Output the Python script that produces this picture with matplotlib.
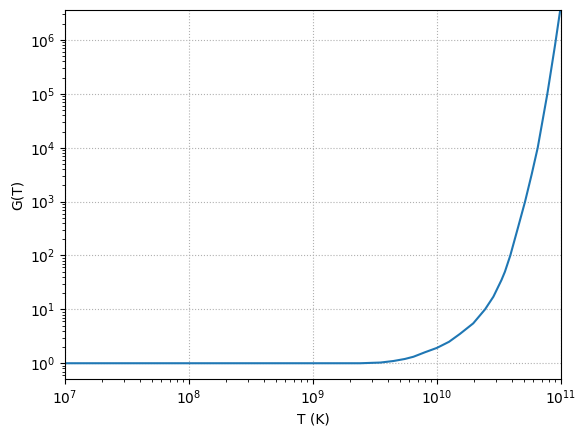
import numpy as np
import matplotlib
matplotlib.use('Agg')
from matplotlib import pyplot as plt

# values
T = [1e7, 1e9, 2.4e9, 3.5e9, 4.45e9, 5.5e9, 6.46e9, 8e9, 1e10, 1.25e10,
     1.53e10, 1.96e10, 2.44e10, 2.85e10, 3.31e10, 3.53e10, 3.9e10, 4.5e10,
     5.13e10, 5.8e10, 6.49e10, 7.76e10, 8.95e10, 1e11]
G = [1.0, 1.0, 1.0, 1.03, 1.1, 1.2, 1.32, 1.6, 1.93, 2.5,
     3.5, 5.5, 10, 17.2, 35, 50, 100, 330,
     1000, 3200, 1e4, 1e5, 8e5, 4.5e6]

fig = plt.figure(figsize=(5.86, 4.37), dpi=100)
ax = fig.add_subplot(111)
fig.subplots_adjust(left=65/586, right=561/586, top=1-10/437, bottom=1-379/437)

ax.loglog(T, G)
ax.set_xlim(1e7, 1e11)
ax.set_ylim(0.51, 3.6e6)
ax.set_xlabel('T (K)')
ax.set_ylabel('G(T)')
ax.grid(True, linestyle=':')

fig.savefig('out.png', dpi=100)
